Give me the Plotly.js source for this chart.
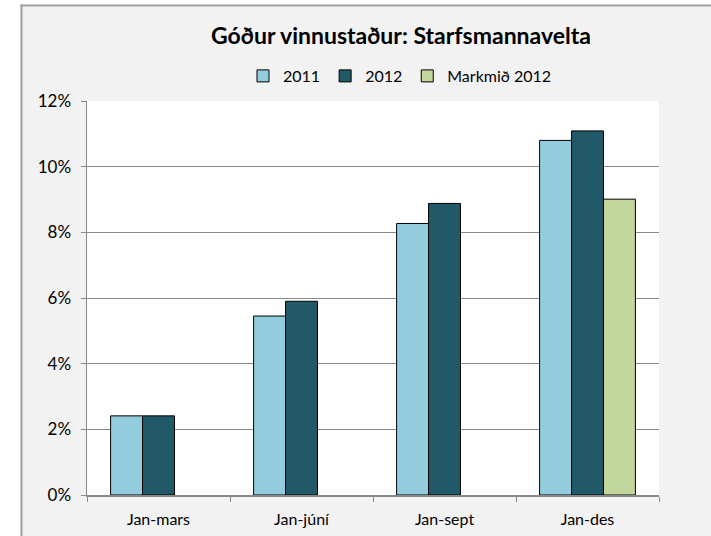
<!DOCTYPE html>
<html>
<head>
<meta charset="utf-8">
<script src="https://cdn.plot.ly/plotly-3.0.1.min.js"></script>
<style>html,body{margin:0;padding:0;background:#fff;overflow:hidden;}#chart{width:711px;height:536px;}</style>
</head>
<body>
<div id="chart"></div>
<script>
const categories = ["Jan-mars", "Jan-júní", "Jan-sept", "Jan-des"];
const series2011 = [0.0241, 0.0545, 0.0827, 0.1080];
const series2012 = [0.0241, 0.0590, 0.0888, 0.1109];
const seriesTarget = [null, null, null, 0.0901];
const seriesNames = ["2011", "2012", "Markmið 2012"];
const yTickVals = [0, 0.02, 0.04, 0.06, 0.08, 0.10, 0.12];
const titleText = "Góður vinnustaður: Starfsmannavelta";

const FONT = "Lato, 'Open Sans', sans-serif";
const line = {color: "#000", width: 1};
const traces = [
  {type: "bar", name: seriesNames[0], x: categories, y: series2011, marker: {color: "#93CDDD", line: line}},
  {type: "bar", name: seriesNames[1], x: categories, y: series2012, marker: {color: "#215968", line: line}},
  {type: "bar", name: seriesNames[2], x: categories, y: seriesTarget, marker: {color: "#C3D69B", line: line}}
];
// pixel -> paper helpers (plot area 87..659 x, 101..495 y)
const px = x => (x - 87) / 572;
const py = y => (495 - y) / 394;
const layout = {
  width: 711, height: 536,
  margin: {l: 87, r: 52, t: 101, b: 41},
  paper_bgcolor: "#f2f2f2",
  plot_bgcolor: "#ffffff",
  font: {family: FONT, size: 16, color: "#000"},
  title: {text: "<b>" + titleText + "</b>", font: {family: FONT, size: 23, color: "#000"},
          x: px(401), xref: "paper", xanchor: "center", y: 1 - 36/536, yanchor: "middle"},
  barmode: "group", bargap: 0.33, bargroupgap: 0,
  showlegend: true,
  legend: {orientation: "h", x: px(400), xanchor: "center", y: py(76), yanchor: "middle",
           font: {family: FONT, size: 16}, bgcolor: "rgba(0,0,0,0)", traceorder: "normal",
           itemwidth: 30},
  xaxis: {type: "category", showgrid: false, showline: true, linecolor: "#898989", linewidth: 1.5,
          ticks: "outside", tickson: "boundaries", ticklen: 5, tickcolor: "#898989",
          ticklabelstandoff: 9,
          tickfont: {family: FONT, size: 16}, fixedrange: true},
  yaxis: {range: [0, 0.12], tickvals: yTickVals, tickformat: ".0%", showgrid: true, gridcolor: "#898989", gridwidth: 1,
          showline: true, linecolor: "#898989", linewidth: 1.5, ticks: "outside", ticklen: 5, tickcolor: "#898989",
          ticklabelstandoff: 6,
          zeroline: false, tickfont: {family: FONT, size: 17}, fixedrange: true},
  shapes: [
    {type: "rect", xref: "paper", yref: "paper", x0: px(-5), x1: px(20.5), y0: py(560), y1: py(-5), fillcolor: "#ffffff", line: {width: 0}, layer: "above"},
    {type: "rect", xref: "paper", yref: "paper", x0: px(-5), x1: px(720), y0: py(4.5), y1: py(-5), fillcolor: "#ffffff", line: {width: 0}, layer: "above"},
    {type: "line", xref: "paper", yref: "paper", x0: px(21.5), x1: px(21.5), y0: py(560), y1: py(4.5), line: {color: "#a0a0a0", width: 2}, layer: "above"},
    {type: "line", xref: "paper", yref: "paper", x0: px(20.5), x1: px(720), y0: py(5.5), y1: py(5.5), line: {color: "#a0a0a0", width: 2}, layer: "above"}
  ]
};
Plotly.newPlot("chart", traces, layout, {displayModeBar: false, staticPlot: true});
</script>
</body>
</html>
